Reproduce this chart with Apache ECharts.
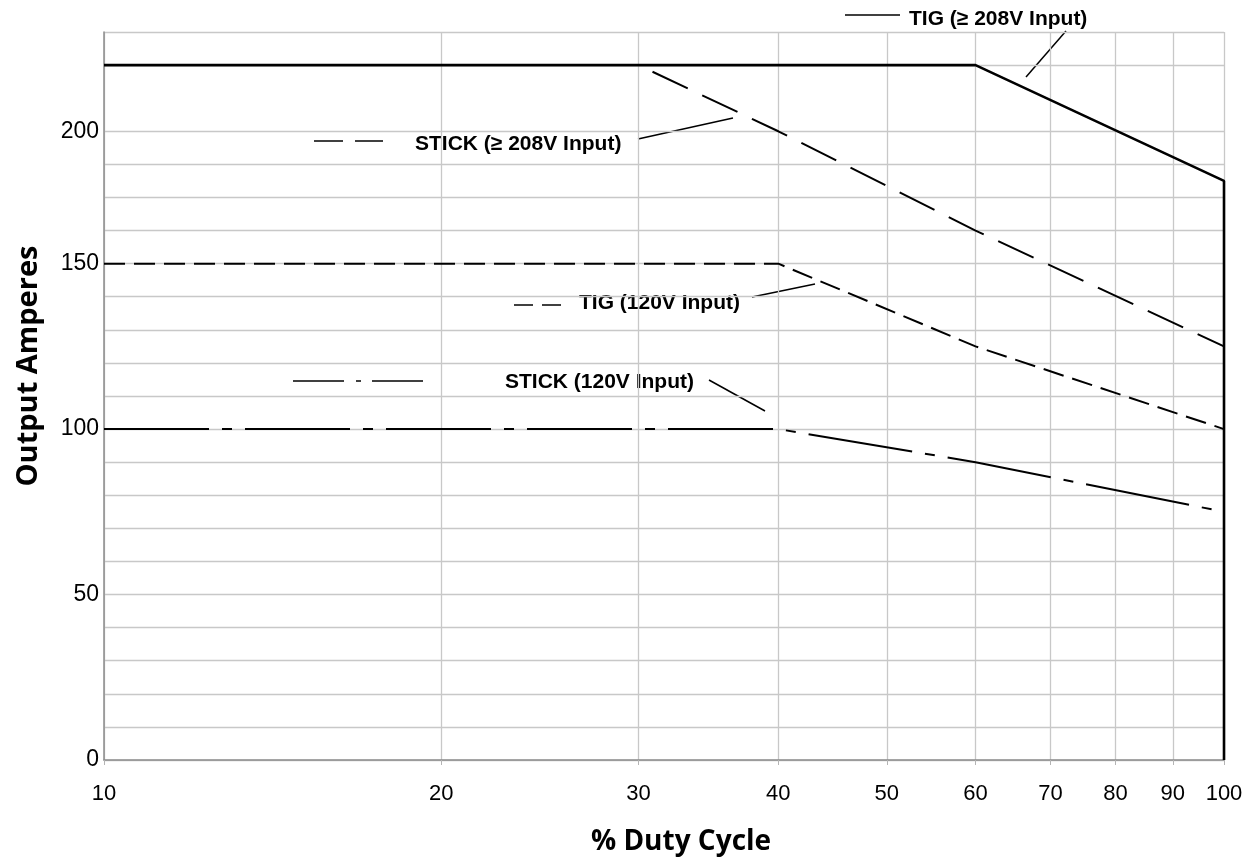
<!DOCTYPE html>
<html>
<head>
<meta charset="utf-8">
<title>Duty Cycle</title>
<script src="https://cdn.jsdelivr.net/npm/echarts@6/dist/echarts.min.js"></script>
<style>
html, body { margin: 0; padding: 0; background: #fff; }
#main { width: 1260px; height: 863px; }
</style>
</head>
<body>
<div id="main"></div>
<script>
// x = % duty cycle (log), y = output amperes as placed on the sheet's grid
var xTicks = [10, 20, 30, 40, 50, 60, 70, 80, 90, 100];
var yTickValues = [0, 50, 100, 150, 190];
var yTickLabels = ['0', '50', '100', '150', '200'];

var tig208Duty = [10, 60, 100, 100];
var tig208Amps = [210, 210, 175, 0];
var stick208Duty = [10, 30, 40, 60, 100];
var stick208Amps = [210, 210, 190, 160, 125];
var tig120Duty = [10, 40, 60, 100];
var tig120Amps = [150, 150, 125, 100];
var stick120Duty = [10, 40, 60, 100];
var stick120Amps = [100, 100, 90, 75];

function pairs(xs, ys) {
    return xs.map(function (x, i) { return [x, ys[i]]; });
}

// one split line per 10 A, the one at 200 is left out on the sheet
var gridColors = [];
for (var v = 0; v <= 220; v += 10) {
    gridColors.push(v === 200 ? 'rgba(0,0,0,0)' : '#c8c8c8');
}

var myChart = echarts.init(document.getElementById('main'));

var labelFont = {
    fontFamily: 'Liberation Sans',
    fontWeight: 'bold',
    fontSize: 21,
    fill: '#000'
};

function seg(x1, y1, x2, y2, w) {
    return {
        type: 'line',
        silent: true,
        shape: { x1: x1, y1: y1, x2: x2, y2: y2 },
        style: { stroke: '#000', lineWidth: w || 1.5 }
    };
}
function txt(str, x, y) {
    return {
        type: 'text',
        silent: true,
        x: x,
        y: y,
        style: Object.assign({ text: str, verticalAlign: 'middle' }, labelFont)
    };
}

var option = {
    animation: false,
    backgroundColor: '#fff',
    grid: {
        left: 104,
        right: 36,
        top: 32,
        bottom: 103
    },
    xAxis: {
        type: 'log',
        logBase: 10,
        min: 10,
        max: 100,
        axisLine: { show: true, lineStyle: { color: '#8c8c8c', width: 1.5 } },
        axisTick: {
            show: true,
            length: 5,
            customValues: xTicks,
            lineStyle: { color: '#b4b4b4' }
        },
        axisLabel: {
            customValues: xTicks,
            fontFamily: 'Liberation Sans',
            fontSize: 22,
            color: '#000',
            margin: 23,
            showMinLabel: true,
            showMaxLabel: true
        },
        splitLine: { show: true, lineStyle: { color: '#c8c8c8', width: 1.3 } }
    },
    yAxis: {
        type: 'value',
        min: 0,
        max: 220,
        interval: 10,
        axisLine: { show: true, lineStyle: { color: '#8c8c8c', width: 1.5 } },
        axisTick: { show: false },
        axisLabel: {
            fontFamily: 'Liberation Sans',
            fontSize: 23,
            color: '#000',
            margin: 5,
            formatter: function (value) {
                var i = yTickValues.indexOf(value);
                return i < 0 ? '' : yTickLabels[i];
            }
        },
        splitLine: { show: true, lineStyle: { color: gridColors, width: 1.3 } }
    },
    series: [{
        name: 'STICK (≥ 208V Input)',
        type: 'line',
        symbol: 'none',
        data: pairs(stick208Duty, stick208Amps),
        lineStyle: { color: '#000', width: 2, type: [39, 16] },
        z: 2
    }, {
        name: 'TIG (120V Input)',
        type: 'line',
        symbol: 'none',
        data: pairs(tig120Duty, tig120Amps),
        lineStyle: { color: '#000', width: 2, type: [21, 9] },
        z: 2
    }, {
        name: 'STICK (120V Input)',
        type: 'line',
        symbol: 'none',
        data: pairs(stick120Duty, stick120Amps),
        lineStyle: { color: '#000', width: 2, type: [105, 13, 10, 13] },
        z: 2
    }, {
        name: 'TIG (≥ 208V Input)',
        type: 'line',
        symbol: 'none',
        data: pairs(tig208Duty, tig208Amps),
        lineStyle: { color: '#000', width: 2.6 },
        z: 3
    }],
    graphic: [
        // axis titles
        {
            type: 'text',
            silent: true,
            x: 29,
            y: 366,
            rotation: Math.PI / 2,
            style: {
                text: 'Output Amperes',
                fontFamily: 'Open Sans',
                fontWeight: 'bold',
                fontSize: 29,
                fill: '#000',
                align: 'center',
                verticalAlign: 'middle'
            }
        },
        {
            type: 'text',
            silent: true,
            x: 681,
            y: 842,
            style: {
                text: '% Duty Cycle',
                fontFamily: 'Open Sans',
                fontWeight: 'bold',
                fontSize: 28,
                fill: '#000',
                align: 'center',
                verticalAlign: 'middle'
            }
        },
        // TIG >= 208V key
        seg(845, 15, 900, 15),
        txt('TIG (≥ 208V Input)', 909, 19),
        seg(1066, 31, 1026, 77),
        // STICK >= 208V key
        seg(314, 141, 343, 141),
        seg(355, 141, 383, 141),
        txt('STICK (≥ 208V Input)', 415, 144),
        seg(638, 139, 733, 118),
        // TIG 120V key
        seg(514, 305, 533, 305),
        seg(542, 305, 561, 305),
        txt('TIG (120V Input)', 579, 303),
        seg(752, 297, 815, 284),
        // STICK 120V key
        seg(293, 381, 344, 381),
        seg(356, 381, 361, 381),
        seg(372, 381, 423, 381),
        txt('STICK (120V Input)', 505, 382),
        seg(709, 380, 765, 411)
    ]
};

myChart.setOption(option);
</script>
</body>
</html>
